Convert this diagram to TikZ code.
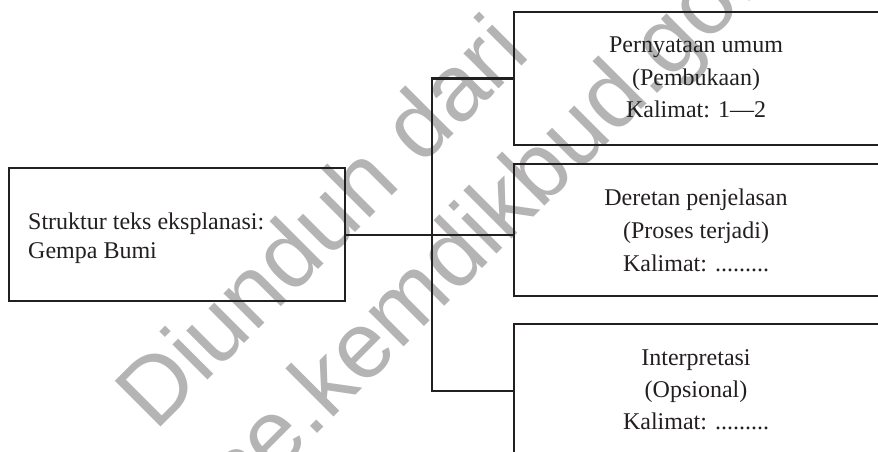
\documentclass[tikz,border=0pt]{standalone}
\usepackage{fontspec}
\setmainfont{Liberation Serif}
\newfontfamily\wmfont{Liberation Sans}
\definecolor{wm}{RGB}{180,180,180}
\definecolor{ink}{RGB}{35,31,32}
\begin{document}
\begin{tikzpicture}[x=1pt,y=-1pt,
  box/.style={draw=ink,line width=2.2pt,inner sep=0pt,anchor=north west,minimum height=133pt},
  wire/.style={draw=ink,line width=2.2pt},
  txt/.style={inner sep=0pt,anchor=base,text=ink,font=\fontsize{24}{28}\selectfont},
  wmark/.style={inner sep=0pt,anchor=base west,rotate=45,text=wm,font=\wmfont\fontsize{94}{94}\selectfont}]
\useasboundingbox (0,0) rectangle (878,452);
\clip (0,0) rectangle (878,452);
% watermark
\node[wmark] (wm1) at (155,433) {Diunduh dari};
\node[wmark] (wm2) at (204,547) {bse.kemdikbud.go.id};
% boxes
\node[box,minimum width=336pt] (src) at (8,167) {};
\node[box,minimum width=370pt] (b1) at (513,11) {};
\node[box,minimum width=370pt,minimum height=132pt] (b2) at (513,163) {};
\node[box,minimum width=370pt] (b3) at (513,323) {};
% connectors
\coordinate (jx) at (432,0);
\draw[wire] (src.east) -- (src.east -| b2.west);
\draw[wire] (b1.west) -- (b1.west -| jx) |- (b3.west);
% texts
\node[txt,anchor=base west] (s1) at (28,229) {Struktur teks eksplanasi:};
\node[txt,anchor=base west] (s2) at (28,258) {Gempa Bumi};
\node[txt] (a1) at (696,53) {Pernyataan umum};
\node[txt] (a2) at (696,85) {(Pembukaan)};
\node[txt] (a3) at (696,117) {Kalimat: 1—2};
\node[txt] (m1) at (696,205) {Deretan penjelasan};
\node[txt] (m2) at (696,238) {(Proses terjadi)};
\node[txt] (m3) at (696,271) {Kalimat: .........};
\node[txt] (c1) at (696,365) {Interpretasi};
\node[txt] (c2) at (696,397) {(Opsional)};
\node[txt] (c3) at (696,429) {Kalimat: .........};
\end{tikzpicture}
\end{document}
